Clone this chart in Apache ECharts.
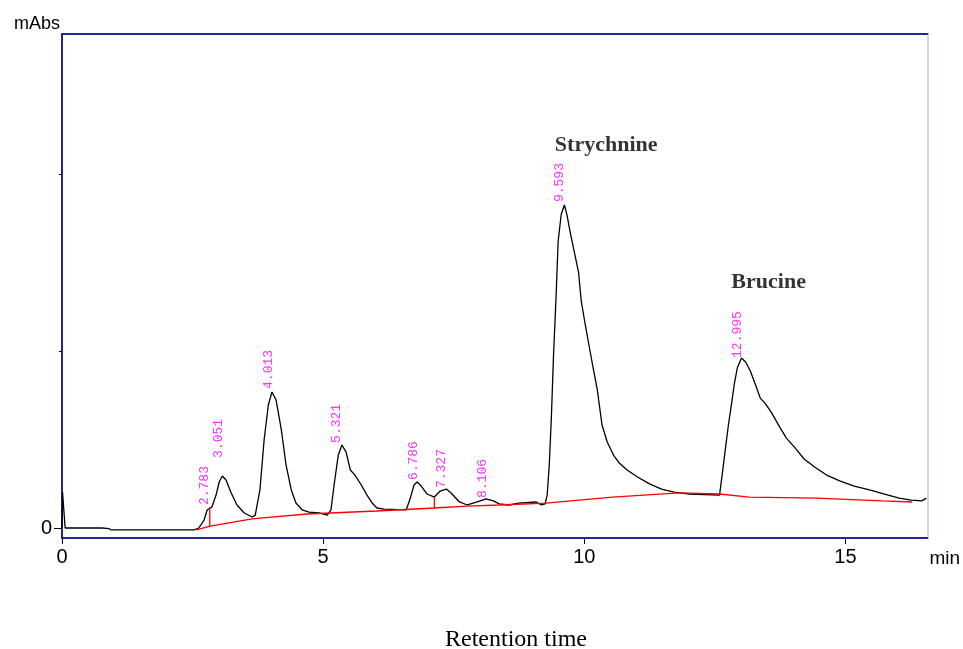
<!DOCTYPE html>
<html>
<head>
    <meta charset="UTF-8">
    <title>Chromatogram</title>
    <style>
        html, body { margin: 0; padding: 0; background: #fff; }
        #main { width: 963px; height: 649px; }
    </style>
</head>
<body>
<div id="main"></div>
<script src="https://cdn.jsdelivr.net/npm/echarts@6/dist/echarts.min.js"></script>
<script>
    // detector signal (min, mAbs)
    var signalTime = [0, 0.01, 0.06, 0.08, 0.77, 0.80, 0.90, 0.94, 1.42, 1.44, 1.46, 2.53,
        2.62, 2.72, 2.78, 2.87, 2.95, 3.01, 3.07, 3.14, 3.24, 3.35, 3.49, 3.64,
        3.70, 3.79, 3.87, 3.95, 4.02, 4.10, 4.20, 4.29, 4.39, 4.48, 4.60, 4.73, 4.92, 5.08,
        5.15, 5.21, 5.29, 5.36, 5.44, 5.52, 5.61, 5.73, 5.84, 5.94, 6.03, 6.17, 6.59,
        6.67, 6.74, 6.80, 6.88, 6.99, 7.13, 7.24, 7.36, 7.45, 7.61, 7.76, 7.95, 8.12, 8.26,
        8.37, 8.56, 8.75, 9.08, 9.18, 9.25,
        9.29, 9.33, 9.37, 9.41, 9.46, 9.50, 9.56, 9.62, 9.67, 9.73, 9.81, 9.89, 9.94,
        10.02, 10.10, 10.17, 10.25, 10.34, 10.44, 10.56, 10.67, 10.82, 11.02, 11.25,
        11.48, 11.72, 12.01, 12.59,
        12.64, 12.70, 12.76, 12.82, 12.87, 12.93, 13.01, 13.09, 13.18, 13.28, 13.37,
        13.47, 13.58, 13.74, 13.87, 14.02, 14.21, 14.41, 14.64, 14.89, 15.17, 15.46,
        15.75, 16.03, 16.26, 16.46, 16.55];
    var signalValue = [0, 20.3, 0, 0, 0, -1.1, -0.3, -1.1, -1.1, -0.4, -1.1, -1.1,
        0, 4.5, 10.2, 11.9, 18.6, 26, 29.4, 27.1, 19.8, 13, 8.5, 6.2,
        7.3, 21.5, 49.7, 69.5, 76.8, 72.3, 55.4, 35.6, 21.5, 14.1, 10.2, 9.0, 8.5, 7.3,
        10.2, 24.3, 41.2, 46.9, 42.9, 32.8, 29.9, 24.3, 18.6, 14.1, 11.3, 10.7, 10.2,
        16.9, 24.3, 26, 23.7, 19.2, 17.5, 20.9, 22, 19.8, 14.7, 13, 14.7, 16.4, 15.3,
        13.6, 13, 14.1, 14.7, 13, 13.6,
        18.6, 35.6, 62.1, 96.6, 130.5, 162.1, 177.4, 182.5, 176.8, 167.2, 155.9, 144.6, 128.8,
        114.7, 101.7, 90.4, 78, 58.2, 48.6, 41.2, 36.7, 32.8, 28.8, 24.9,
        22, 20.3, 19.2, 18.6,
        29.9, 44.1, 58.2, 70.1, 80.8, 90.4, 96, 93.8, 88.7, 80.8, 73.4,
        70.1, 65.5, 57.1, 50.8, 45.8, 39, 34.5, 29.9, 26.6, 23.7, 21.5,
        19.2, 16.9, 15.8, 15.3, 16.9];

    // integration baseline
    var baseTime = [2.57, 2.84, 3.64, 4.69, 6.02, 7.13, 7.76, 8.37, 9.27, 9.90, 10.54, 11.82, 12.59, 13.16, 14.44, 15.71, 16.28];
    var baseValue = [-1.1, 1.1, 5.1, 7.9, 9.6, 11.3, 12.4, 13, 14.1, 15.8, 17.5, 19.8, 19.2, 17.5, 16.9, 15.3, 14.7];

    // drop lines
    var dropTime = [2.83, 7.13];
    var dropLow = [1.2, 11.3];
    var dropHigh = [11.9, 17.5];

    // peak retention times
    var peakRT = [2.783, 3.051, 4.013, 5.321, 6.786, 7.327, 8.106, 9.593, 12.995];
    var peakLabelBase = [12.4, 39, 78, 47.5, 26.5, 22, 16.4, 183.6, 95.5];

    var compoundNames = ['Strychnine', 'Brucine'];
    var compoundTime = [10.42, 13.53];
    var compoundValue = [216, 139];

    // y ticks
    var yLabelTicks = [0];
    var yMinorTicks = [100, 200];

    var blue = '#23239c';

    var series = [];
    series.push({
        type: 'line', symbol: 'none', silent: true,
        lineStyle: {color: '#000', width: 1.3},
        data: signalTime.map(function (t, i) { return [t, signalValue[i]]; })
    });
    series.push({
        type: 'line', symbol: 'none', silent: true,
        lineStyle: {color: '#ff0000', width: 1.3},
        data: baseTime.map(function (t, i) { return [t, baseValue[i]]; })
    });
    for (var i = 0; i < dropTime.length; i++) {
        series.push({
            type: 'line', symbol: 'none', silent: true,
            lineStyle: {color: '#ff0000', width: 1.3},
            data: [[dropTime[i], dropLow[i]], [dropTime[i], dropHigh[i]]]
        });
    }
    series.push({
        type: 'scatter', symbolSize: 0, silent: true,
        data: peakRT.map(function (t, i) { return {value: [t, peakLabelBase[i]], name: t.toFixed(3)}; }),
        label: {
            show: true, position: 'top', distance: 1, rotate: 90,
            align: 'left', verticalAlign: 'middle', offset: [0, -3],
            formatter: '{b}', color: '#ff00ff',
            fontFamily: 'Liberation Mono', fontSize: 13
        }
    });
    series.push({
        type: 'scatter', symbolSize: 0, silent: true,
        data: compoundNames.map(function (n, i) { return {value: [compoundTime[i], compoundValue[i]], name: n}; }),
        label: {
            show: true, position: 'inside', formatter: '{b}', color: '#000',
            fontFamily: 'Liberation Serif', fontWeight: 'bold', fontSize: 22
        }
    });

    var myChart = echarts.init(document.getElementById('main'));
    var option = {
        animation: false,
        backgroundColor: '#fff',
        grid: {left: 62, right: 35, top: 34, bottom: 111},
        xAxis: [{
            type: 'value', min: 0, max: 16.57, interval: 5,
            name: 'min', nameLocation: 'end', nameGap: 2,
            nameTextStyle: {color: '#000', fontFamily: 'Liberation Sans', fontSize: 19,
                align: 'left', verticalAlign: 'top', padding: [11, 0, 0, 0]},
            axisLine: {onZero: false, lineStyle: {color: blue, width: 2}},
            axisTick: {show: true, length: 6, inside: false, lineStyle: {color: '#000', width: 1}},
            axisLabel: {color: '#000', fontFamily: 'Liberation Sans', fontSize: 20, margin: 9, showMaxLabel: false},
            splitLine: {show: false}
        }, {
            type: 'value', position: 'top', min: 0, max: 16.57,
            axisLine: {show: true, onZero: false, lineStyle: {color: blue, width: 2}},
            axisTick: {show: false}, axisLabel: {show: false}, splitLine: {show: false}
        }],
        yAxis: [{
            type: 'value', min: -5.65, max: 279.1,
            name: 'mAbs', nameLocation: 'end', nameGap: 1,
            nameTextStyle: {color: '#000', fontFamily: 'Liberation Sans', fontSize: 18,
                align: 'right', padding: [0, 2, 0, 0]},
            axisLine: {show: true, onZero: false, lineStyle: {color: blue, width: 2}},
            axisTick: {show: true, length: 8, customValues: yLabelTicks, lineStyle: {color: '#000'}},
            axisLabel: {color: '#000', fontFamily: 'Liberation Sans', fontSize: 20, margin: 10, customValues: yLabelTicks},
            splitLine: {show: false}
        }, {
            type: 'value', position: 'right', min: -5.65, max: 279.1,
            axisLine: {show: true, onZero: false, lineStyle: {color: '#dcd8cc', width: 2}},
            axisTick: {show: false}, axisLabel: {show: false}, splitLine: {show: false}
        }, {
            type: 'value', position: 'left', min: -5.65, max: 279.1,
            axisLine: {show: false, onZero: false},
            axisTick: {show: true, length: 3, customValues: yMinorTicks, lineStyle: {color: '#000'}},
            axisLabel: {show: false}, splitLine: {show: false}
        }],
        graphic: [{
            type: 'text', x: 516, y: 640,
            style: {text: 'Retention time', fill: '#000', font: '24px "Liberation Serif"',
                textAlign: 'center', textVerticalAlign: 'middle'}
        }],
        series: series
    };
    myChart.setOption(option);
</script>
</body>
</html>
